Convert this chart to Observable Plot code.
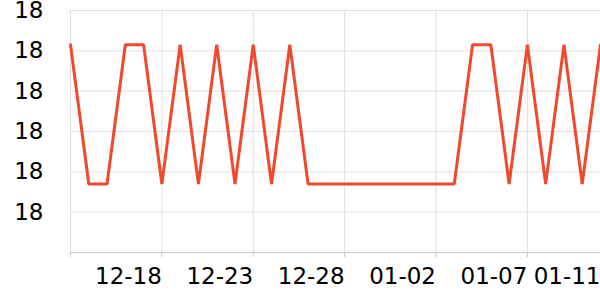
<!DOCTYPE html>
<html>
<head>
<meta charset="utf-8">
<script src="https://cdn.jsdelivr.net/npm/d3@7"></script>
<script src="https://cdn.jsdelivr.net/npm/@observablehq/plot@0.6"></script>
<style>
  html, body { margin: 0; padding: 0; background: #fff; }
  #chart svg text { font-size: 23px !important; font-family: "DejaVu Sans" !important; }
</style>
</head>
<body>
<div id="chart"></div>
<script>
const dates = [
  "2023-12-13","2023-12-14","2023-12-15","2023-12-16","2023-12-17","2023-12-18",
  "2023-12-19","2023-12-20","2023-12-21","2023-12-22","2023-12-23","2023-12-24",
  "2023-12-25","2023-12-26","2023-12-27","2023-12-28","2023-12-29","2023-12-30",
  "2023-12-31","2024-01-01","2024-01-02","2024-01-03","2024-01-04","2024-01-05",
  "2024-01-06","2024-01-07","2024-01-08","2024-01-09","2024-01-10","2024-01-11"
];
const values = [
  18.043, 17.974, 17.974, 18.043, 18.043, 17.974,
  18.043, 17.974, 18.043, 17.974, 18.043, 17.974,
  18.043, 17.974, 17.974, 17.974, 17.974, 17.974,
  17.974, 17.974, 17.974, 17.974, 18.043, 18.043,
  17.974, 18.043, 17.974, 18.043, 17.974, 18.043
];
const xTickDates = ["2023-12-13","2023-12-18","2023-12-23","2023-12-28","2024-01-02","2024-01-07","2024-01-11"];
const xTickLabels = ["", "12-18", "12-23", "12-28", "01-02", "01-07", "01-11"];
const yDomain = [17.94, 18.06];
const yTicks = [17.96, 17.98, 18.00, 18.02, 18.04, 18.06];

const parse = d3.utcParse("%Y-%m-%d");
const data = dates.map((d, i) => ({date: parse(d), value: values[i]}));
const xTicks = xTickDates.map(parse);
const labelOf = new Map(xTicks.map((d, i) => [+d, xTickLabels[i]]));

const chart = Plot.plot({
  width: 600,
  height: 300,
  marginLeft: 70,
  marginRight: 0,
  marginTop: 10,
  marginBottom: 48,
  style: {fontFamily: "DejaVu Sans", fontSize: "23px", color: "#000", background: "#fff"},
  x: {type: "utc", domain: [data[0].date, data[data.length - 1].date]},
  y: {domain: yDomain},
  marks: [
    Plot.gridY(yTicks, {stroke: "#e0e0e0", strokeOpacity: 1}),
    Plot.gridX(xTicks, {stroke: "#e0e0e0", strokeOpacity: 1}),
    Plot.ruleY([yDomain[0]], {stroke: "#c8c8c8"}),
    Plot.axisY(yTicks, {tickSize: 0, tickPadding: 27, label: null, tickFormat: d => d3.format(".0f")(d), fill: "#000"}),
    Plot.axisX(xTicks, {tickSize: 5, tickPadding: 10, label: null, stroke: "#c8c8c8", strokeOpacity: 1,
      tickFormat: d => labelOf.get(+d), textAnchor: "end", fill: "#000"}),
    Plot.line(data, {x: "date", y: "value", stroke: "#ef4a2d", strokeWidth: 3, strokeLinejoin: "miter"})
  ]
});
document.getElementById("chart").append(chart);
</script>
</body>
</html>
